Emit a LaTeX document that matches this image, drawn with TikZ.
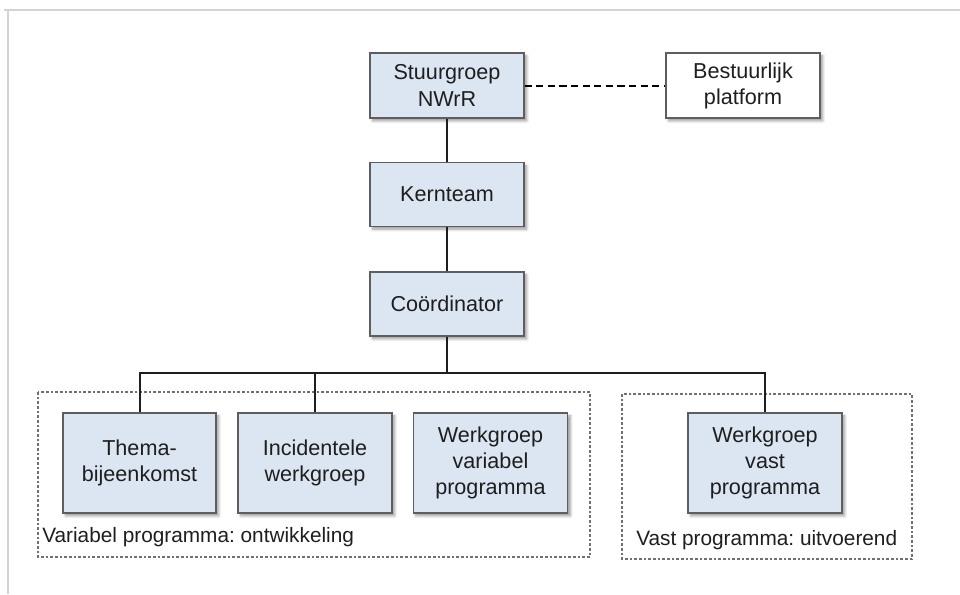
\documentclass[tikz,border=0pt]{standalone}
\usepackage{fontspec}
\setmainfont{Liberation Sans}
\usetikzlibrary{shadows.blur}
\definecolor{boxfill}{HTML}{DCE6F2}
\definecolor{boxline}{HTML}{5E5E5E}
\definecolor{frameline}{HTML}{D4D4D4}
\definecolor{grpline}{HTML}{707070}
\definecolor{txt}{HTML}{1E1E1E}
\frenchspacing
\tikzset{
  orgbox/.style={draw=boxline, line width=0.8pt, fill=boxfill, align=center, text=txt,
    font=\fontsize{16.2}{19.6}\selectfont, inner sep=0pt,
    blur shadow={shadow xshift=2pt, shadow yshift=-2.2pt, shadow blur steps=6, shadow opacity=40, shadow blur radius=2pt}},
  plainbox/.style={orgbox, fill=white},
  conn/.style={draw=txt, line width=1.5pt},
  dashconn/.style={draw=black, line width=1.5pt, dash pattern=on 5.5pt off 3.2pt},
  grpbox/.style={draw=grpline, line width=0.8pt, dash pattern=on 2pt off 1.5pt},
  grplabel/.style={anchor=west, inner sep=0pt, font=\fontsize{15.6}{18}\selectfont, text=txt}
}
\begin{document}
\begin{tikzpicture}[x=0.75pt,y=-0.75pt]
\useasboundingbox (0,0) rectangle (960,594);
% page frame
\draw[frameline, line width=1.5pt] (4,10) -- (960,10);
\draw[frameline, line width=1.5pt] (8,10) -- (8,594);
% group boxes
\draw[grpbox] (38,392) rectangle (590,557);
\draw[grpbox] (622,394) rectangle (912,559);
\node[grplabel] (lblvar) at (42,537) {Variabel programma: ontwikkeling};
\node[grplabel] (lblvast) at (636,540) {Vast programma: uitvoerend};
% top nodes
\node[orgbox, minimum width=115.5pt, minimum height=48.75pt] (stuur) at (447,85.5) {Stuurgroep\\NWrR};
\node[plainbox, minimum width=115.5pt, minimum height=48.75pt] (bestuur) at (743,85.5) {Bestuurlijk\\platform};
\node[orgbox, minimum width=115.5pt, minimum height=47.5pt] (kern) at (447,194.5) {Kernteam};
\node[orgbox, minimum width=115.5pt, minimum height=48pt] (coord) at (447,304) {Coördinator};
% bottom nodes
\node[orgbox, minimum width=114.75pt, minimum height=75pt] (thema) at (139.5,463) {Thema-\\bijeenkomst};
\node[orgbox, minimum width=115.5pt, minimum height=75pt] (incid) at (315,463) {Incidentele\\werkgroep};
\node[orgbox, minimum width=116pt, minimum height=75pt] (wvar) at (490.5,463) {Werkgroep\\variabel\\programma};
\node[orgbox, minimum width=115.5pt, minimum height=75pt] (wvast) at (765,463) {Werkgroep\\vast\\programma};
% connectors
\coordinate (bus) at (447,373);
\draw[dashconn] (stuur.east) -- (bestuur.west);
\draw[conn] (stuur.south) -- (kern.north);
\draw[conn] (kern.south) -- (coord.north);
\draw[conn] (coord.south) -- (bus);
\draw[conn] (thema.north) |- (bus) -| (wvast.north);
\draw[conn] (incid.north) -- (incid.north |- bus);
\end{tikzpicture}
\end{document}
